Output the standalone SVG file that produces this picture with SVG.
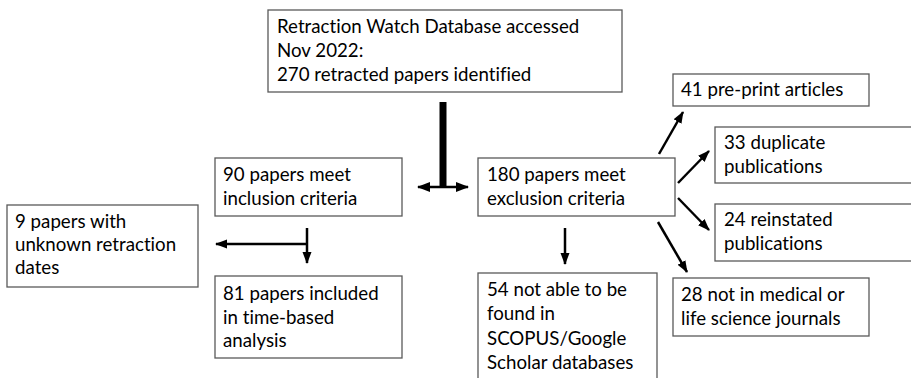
<svg xmlns="http://www.w3.org/2000/svg" width="911" height="378" viewBox="0 0 911 378">
<defs>
<style>
.box{fill:#fff;stroke:#595959;stroke-width:1.3}
text{font-family:Lato,"Liberation Sans",sans-serif;font-size:18.7px;fill:#000;font-variant-ligatures:none;font-feature-settings:"liga" 0}
.c{stroke:#000;stroke-width:2.5;fill:none}
</style>
<marker id="ah" markerUnits="userSpaceOnUse" markerWidth="12" markerHeight="12" viewBox="0 0 12 12" refX="11" refY="6" orient="auto">
<path d="M0,1.5 L12,6 L0,10.5 Z" fill="#000"/>
</marker>
<marker id="ahb" markerUnits="userSpaceOnUse" markerWidth="13" markerHeight="12" viewBox="0 0 13 12" refX="12" refY="6" orient="auto">
<path d="M0,1 L13,6 L0,11 Z" fill="#000"/>
</marker>
<marker id="ahbs" markerUnits="userSpaceOnUse" markerWidth="13" markerHeight="12" viewBox="0 0 13 12" refX="1" refY="6" orient="auto">
<path d="M13,1 L0,6 L13,11 Z" fill="#000"/>
</marker>
</defs>
<rect width="911" height="378" fill="#fff"/>
<g id="connectors">
<line x1="443" y1="102" x2="443" y2="188" stroke="#000" stroke-width="7"/>
<line class="c" x1="418" y1="187" x2="468" y2="187" stroke-width="3" marker-start="url(#ahbs)" marker-end="url(#ahb)"/>
<line class="c" x1="307" y1="228" x2="307" y2="263" marker-end="url(#ah)"/>
<line class="c" x1="308" y1="244" x2="216" y2="244" marker-end="url(#ah)"/>
<line class="c" x1="565" y1="228" x2="565" y2="264" marker-end="url(#ah)"/>
<line class="c" x1="659" y1="154" x2="683" y2="112" marker-end="url(#ah)"/>
<line class="c" x1="678" y1="183" x2="709" y2="151" marker-end="url(#ah)"/>
<line class="c" x1="678" y1="198" x2="709" y2="230" marker-end="url(#ah)"/>
<line class="c" x1="658" y1="222" x2="687" y2="272" marker-end="url(#ah)"/>
</g>
<g id="n-top">
<rect class="box" x="268" y="10" width="354" height="82"/>
<text x="277" y="33">Retraction Watch Database accessed</text>
<text x="277" y="57">Nov 2022:</text>
<text x="277" y="81">270 retracted papers identified</text>
</g>
<g id="n-incl">
<rect class="box" x="215" y="158" width="187" height="58"/>
<text x="223" y="181">90 papers meet</text>
<text x="223" y="205">inclusion criteria</text>
</g>
<g id="n-unknown">
<rect class="box" x="7" y="205" width="191" height="82"/>
<text x="15" y="228">9 papers with</text>
<text x="15" y="251">unknown retraction</text>
<text x="15" y="274">dates</text>
</g>
<g id="n-81">
<rect class="box" x="215" y="276" width="187" height="82"/>
<text x="223" y="300">81 papers included</text>
<text x="223" y="324">in time-based</text>
<text x="223" y="347">analysis</text>
</g>
<g id="n-excl">
<rect class="box" x="478" y="158" width="197" height="58"/>
<text x="487" y="181">180 papers meet</text>
<text x="487" y="205">exclusion criteria</text>
</g>
<g id="n-54">
<rect class="box" x="478" y="273" width="179" height="115"/>
<text x="487" y="296">54 not able to be</text>
<text x="487" y="320">found in</text>
<text x="487" y="345">SCOPUS/Google</text>
<text x="487" y="369">Scholar databases</text>
</g>
<g id="n-41">
<rect class="box" x="673" y="74" width="196" height="32"/>
<text x="681" y="96">41 pre-print articles</text>
</g>
<g id="n-33">
<rect class="box" x="715" y="127" width="200" height="56"/>
<text x="724" y="149">33 duplicate</text>
<text x="724" y="173">publications</text>
</g>
<g id="n-24">
<rect class="box" x="715" y="204" width="200" height="57"/>
<text x="724" y="226">24 reinstated</text>
<text x="724" y="250">publications</text>
</g>
<g id="n-28">
<rect class="box" x="673" y="278" width="196" height="58"/>
<text x="681" y="301">28 not in medical or</text>
<text x="681" y="325">life science journals</text>
</g>
</svg>
